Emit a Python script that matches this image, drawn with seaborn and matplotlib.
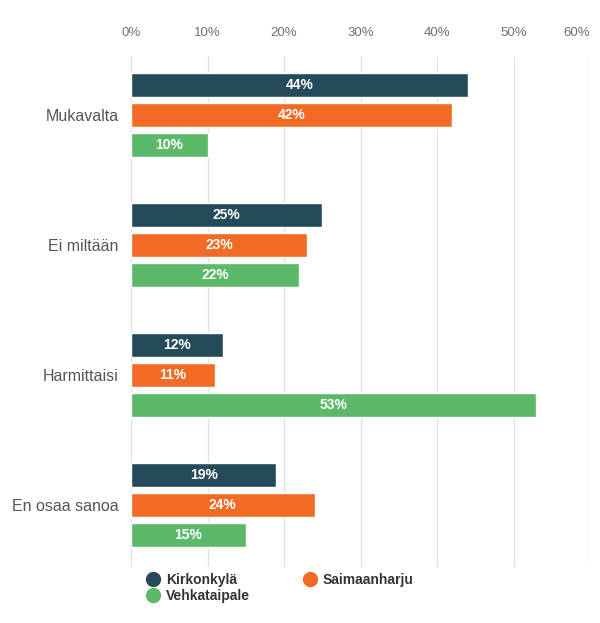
import matplotlib
matplotlib.use("Agg")
import matplotlib.pyplot as plt
from matplotlib.lines import Line2D
from matplotlib.ticker import FuncFormatter
import pandas as pd
import seaborn as sns

# ------------------------------------------------------------------------------
# Data
categories = ["Mukavalta", "Ei miltään", "Harmittaisi", "En osaa sanoa"]
series = ["Kirkonkylä", "Saimaanharju", "Vehkataipale"]
kirkonkyla = [44, 25, 12, 19]
saimaanharju = [42, 23, 11, 24]
vehkataipale = [10, 22, 53, 15]
colors = ["#254b5b", "#f26b24", "#5cb96a"]

df = pd.DataFrame({
    "Vastaus": categories * 3,
    "Alue": [s for s in series for _ in categories],
    "Osuus": kirkonkyla + saimaanharju + vehkataipale,
})

# ------------------------------------------------------------------------------
sns.set_style("white")
plt.rcParams["font.family"] = ["Liberation Sans", "DejaVu Sans"]

fig = plt.figure(figsize=(6, 6.23), dpi=100)
ax = fig.add_axes([131 / 600, 56 / 623, 459 / 600, 511 / 623])

sns.barplot(data=df, y="Vastaus", x="Osuus", hue="Alue", order=categories,
            hue_order=series, palette=colors, width=0.692, gap=0.2,
            orient="h", saturation=1, legend=False, ax=ax)

# value labels inside bars
for cont in ax.containers:
    ax.bar_label(cont, labels=[f"{v:.0f}%" for v in cont.datavalues],
                 label_type="center", color="white", fontsize=10,
                 fontweight="bold")

ax.set_xlim(0, 60)
ax.set_ylim(3.477, -0.454)
ax.set_xticks(range(0, 61, 10))
ax.xaxis.set_major_formatter(FuncFormatter(lambda v, p: f"{v:.0f}%"))
ax.xaxis.tick_top()
ax.tick_params(axis="x", length=0, pad=12, labelsize=9.5, labelcolor="#707070")
ax.tick_params(axis="y", length=0, pad=9, labelsize=11.5, labelcolor="#555555")
ax.grid(axis="x", color="#e2e2e2", linewidth=1)
ax.set_axisbelow(True)
for s in ax.spines.values():
    s.set_visible(False)
ax.set_xlabel("")
ax.set_ylabel("")
fig.canvas.draw()
ax.get_xticklabels()[-1].set_horizontalalignment("right")

# legend
handles = [Line2D([0], [0], marker="o", linestyle="", markersize=10,
                  markerfacecolor=c, markeredgecolor=c) for c in colors]
order = [0, 2, 1]
leg = fig.legend([handles[i] for i in order], [series[i] for i in order],
                 ncol=2, loc="upper left", bbox_to_anchor=(139 / 600, 1 - 566 / 623),
                 frameon=False, handletextpad=0.45, columnspacing=3.8,
                 labelspacing=0.15, handlelength=1.0, borderpad=0,
                 prop={"weight": "bold", "size": 10})
for t in leg.get_texts():
    t.set_color("#333333")

fig.savefig("out.png", dpi=100)
